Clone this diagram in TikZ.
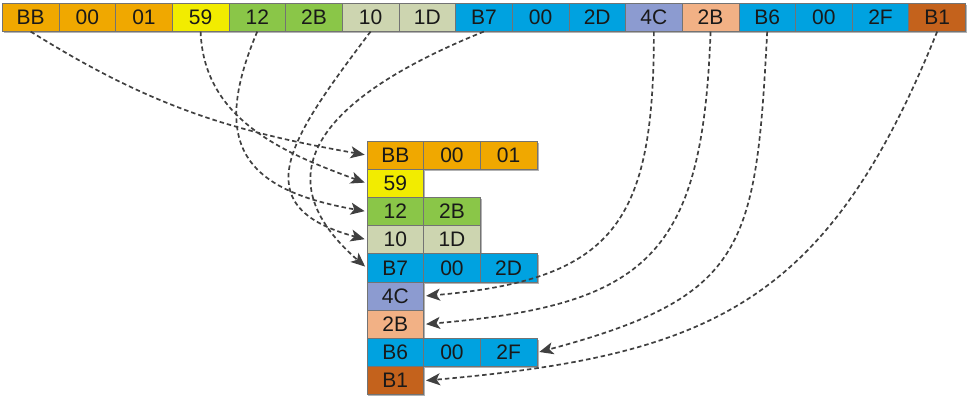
\documentclass[tikz,border=0pt]{standalone}
\usepackage{fontspec}
\setmainfont{Liberation Sans}
\usepackage{xcolor}
\usepackage{tikz}
\usetikzlibrary{arrows.meta,shadows}
\definecolor{orangeoctet}{RGB}{240,168,0}
\definecolor{jauneoctet}{RGB}{242,236,0}
\definecolor{vertoctet}{RGB}{138,198,72}
\definecolor{kakioctet}{RGB}{205,213,176}
\definecolor{bleuoctet}{RGB}{0,162,224}
\definecolor{violetoctet}{RGB}{140,155,208}
\definecolor{pecheoctet}{RGB}{242,177,133}
\definecolor{brunoctet}{RGB}{196,98,28}
\definecolor{grisfleche}{RGB}{64,64,64}

\begin{document}
\begin{tikzpicture}[x=1pt,y=1pt]
% Styles
\tikzstyle{fleche}=[-{Stealth[length=14pt,width=12pt,inset=3.5pt]},draw=grisfleche,line width=1.7pt,dash pattern=on 4.5pt off 3pt,shorten >=2pt]
\tikzstyle{octet}=[draw=black!55,line width=0.7pt,minimum width=56.7pt,minimum height=28.2pt,inner sep=0pt,text=black!90,font=\fontsize{21pt}{24pt}\selectfont,drop shadow={shadow xshift=1.5pt,shadow yshift=-1.5pt,opacity=0.3,fill=black}]
% Dimensions
\def\LargeurCase{56.66}
\def\HauteurCase{28.2}
\def\MargeGauche{2.3}
\def\MargeBas{367}
\def\DebutBas{-141}
% Dimensions calculees
\def\LigneHaut{(-3)-(0.5)*\HauteurCase}
\def\LigneA{\DebutBas-(0.5)*\HauteurCase}
\def\LigneB{\DebutBas-(1.5)*\HauteurCase}
\def\LigneC{\DebutBas-(2.5)*\HauteurCase}
\def\LigneD{\DebutBas-(3.5)*\HauteurCase}
\def\LigneE{\DebutBas-(4.5)*\HauteurCase}
\def\LigneF{\DebutBas-(5.5)*\HauteurCase}
\def\LigneG{\DebutBas-(6.5)*\HauteurCase}
\def\LigneH{\DebutBas-(7.5)*\HauteurCase}
\def\LigneI{\DebutBas-(8.5)*\HauteurCase}
\def\ColA{\MargeBas+(0.5)*\LargeurCase}
\def\ColB{\MargeBas+(1.5)*\LargeurCase}
\def\ColC{\MargeBas+(2.5)*\LargeurCase}
\useasboundingbox (0,0) rectangle (970,-402);
% Trame d'origine
\node[octet,fill=orangeoctet] (H1) at ({\MargeGauche+(0.5)*\LargeurCase},{\LigneHaut}) {BB};
\node[octet,fill=orangeoctet] (H2) at ({\MargeGauche+(1.5)*\LargeurCase},{\LigneHaut}) {00};
\node[octet,fill=orangeoctet] (H3) at ({\MargeGauche+(2.5)*\LargeurCase},{\LigneHaut}) {01};
\node[octet,fill=jauneoctet] (H4) at ({\MargeGauche+(3.5)*\LargeurCase},{\LigneHaut}) {59};
\node[octet,fill=vertoctet] (H5) at ({\MargeGauche+(4.5)*\LargeurCase},{\LigneHaut}) {12};
\node[octet,fill=vertoctet] (H6) at ({\MargeGauche+(5.5)*\LargeurCase},{\LigneHaut}) {2B};
\node[octet,fill=kakioctet] (H7) at ({\MargeGauche+(6.5)*\LargeurCase},{\LigneHaut}) {10};
\node[octet,fill=kakioctet] (H8) at ({\MargeGauche+(7.5)*\LargeurCase},{\LigneHaut}) {1D};
\node[octet,fill=bleuoctet] (H9) at ({\MargeGauche+(8.5)*\LargeurCase},{\LigneHaut}) {B7};
\node[octet,fill=bleuoctet] (H10) at ({\MargeGauche+(9.5)*\LargeurCase},{\LigneHaut}) {00};
\node[octet,fill=bleuoctet] (H11) at ({\MargeGauche+(10.5)*\LargeurCase},{\LigneHaut}) {2D};
\node[octet,fill=violetoctet] (H12) at ({\MargeGauche+(11.5)*\LargeurCase},{\LigneHaut}) {4C};
\node[octet,fill=pecheoctet] (H13) at ({\MargeGauche+(12.5)*\LargeurCase},{\LigneHaut}) {2B};
\node[octet,fill=bleuoctet] (H14) at ({\MargeGauche+(13.5)*\LargeurCase},{\LigneHaut}) {B6};
\node[octet,fill=bleuoctet] (H15) at ({\MargeGauche+(14.5)*\LargeurCase},{\LigneHaut}) {00};
\node[octet,fill=bleuoctet] (H16) at ({\MargeGauche+(15.5)*\LargeurCase},{\LigneHaut}) {2F};
\node[octet,fill=brunoctet] (H17) at ({\MargeGauche+(16.5)*\LargeurCase},{\LigneHaut}) {B1};
% Trame rangee
\node[octet,fill=orangeoctet] (L1a) at ({\ColA},{\LigneA}) {BB};
\node[octet,fill=orangeoctet] (L1b) at ({\ColB},{\LigneA}) {00};
\node[octet,fill=orangeoctet] (L1c) at ({\ColC},{\LigneA}) {01};
\node[octet,fill=jauneoctet] (L2a) at ({\ColA},{\LigneB}) {59};
\node[octet,fill=vertoctet] (L3a) at ({\ColA},{\LigneC}) {12};
\node[octet,fill=vertoctet] (L3b) at ({\ColB},{\LigneC}) {2B};
\node[octet,fill=kakioctet] (L4a) at ({\ColA},{\LigneD}) {10};
\node[octet,fill=kakioctet] (L4b) at ({\ColB},{\LigneD}) {1D};
\node[octet,fill=bleuoctet] (L5a) at ({\ColA},{\LigneE}) {B7};
\node[octet,fill=bleuoctet] (L5b) at ({\ColB},{\LigneE}) {00};
\node[octet,fill=bleuoctet] (L5c) at ({\ColC},{\LigneE}) {2D};
\node[octet,fill=violetoctet] (L6a) at ({\ColA},{\LigneF}) {4C};
\node[octet,fill=pecheoctet] (L7a) at ({\ColA},{\LigneG}) {2B};
\node[octet,fill=bleuoctet] (L8a) at ({\ColA},{\LigneH}) {B6};
\node[octet,fill=bleuoctet] (L8b) at ({\ColB},{\LigneH}) {00};
\node[octet,fill=bleuoctet] (L8c) at ({\ColC},{\LigneH}) {2F};
\node[octet,fill=brunoctet] (L9a) at ({\ColA},{\LigneI}) {B1};
% Fleches
\draw[fleche] (H1.south) to[out=-32,in=170] (L1a.west);
\draw[fleche] (H4.south) to[out=-88,in=160] (L2a.west);
\draw[fleche] (H5.south) to[out=-113,in=170,looseness=1.5] (L3a.west);
\draw[fleche] (H7.south) to[out=-127,in=165,looseness=1.6] (L4a.west);
\draw[fleche] (H9.south) to[out=-158,in=139,looseness=1.5] (L5a.west);
\draw[fleche] (H12.south) to[out=-90,in=5,looseness=1.4] (L6a.east);
\draw[fleche] (H13.south) to[out=-92,in=5,looseness=1.4] (L7a.east);
\draw[fleche] (H14.south) to[out=-93,in=15,looseness=1.4] (L8c.east);
\draw[fleche] (H17.south) to[out=-112,in=5,looseness=1.2] (L9a.east);
\end{tikzpicture}
\end{document}
